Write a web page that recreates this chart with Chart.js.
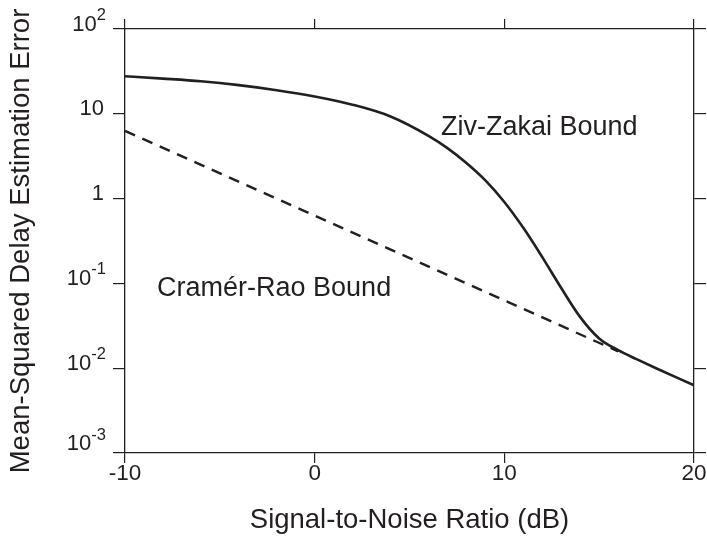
<!DOCTYPE html>
<html>
<head>
<meta charset="utf-8">
<script src="https://cdn.jsdelivr.net/npm/chart.js@4/dist/chart.umd.min.js"></script>
<style>
  html, body { margin: 0; padding: 0; background: #fff; }
  #wrap { width: 707px; height: 540px; }
</style>
</head>
<body>
<div id="wrap"><canvas id="c" width="707" height="540"></canvas></div>
<script>
// Signal-to-noise ratio samples (dB) and the Ziv-Zakai bound on delay MSE
const snrDb = [-10, -8, -6, -4, -2, 0, 2, 4, 6, 7, 8, 9, 10, 11, 12, 13, 14, 15, 16, 17, 18, 20];
const zivZakai = [27.7, 26.0, 24.2, 21.8, 19.0, 16.0, 12.8, 9.3, 5.5, 3.94, 2.63, 1.64, 0.912, 0.452, 0.204, 0.0881, 0.0400, 0.0224, 0.0163, 0.0127, 0.0100, 0.0063];

// Cramér-Rao bound (straight line on log axes), drawn dashed up to where the curves merge
const crbSnrDb = [-10, 0, 10, 16];
const cramerRao = [6.3, 0.63, 0.063, 0.0158];

// Axis ticks
const xTickValues = [-10, 0, 10, 20];
const yTickExponents = [-3, -2, -1, 0, 1, 2];

const INK = '#231f20';
const FONT = '"Liberation Sans", Arial, Helvetica, sans-serif';

const toPoints = (xs, ys) => xs.map((x, i) => ({ x: x, y: ys[i] }));

// Axis tick labels in 10^n form and the curve captions
const labelPlugin = {
  id: 'boundLabels',
  afterDraw(chart) {
    const ctx = chart.ctx;
    const ys = chart.scales.y;
    const xs = chart.scales.x;
    ctx.save();
    ctx.fillStyle = INK;
    ctx.textBaseline = 'middle';
    yTickExponents.forEach(e => {
      const lift = e === -3 ? 9 : 4.5;
      const py = ys.getPixelForValue(Math.pow(10, e)) - lift;
      if (e === 0 || e === 1) {
        ctx.font = '22px ' + FONT;
        ctx.textAlign = 'right';
        ctx.fillText(e === 0 ? '1' : '10', 104, py);
      } else {
        const expText = e < 0 ? '-' + Math.abs(e) : String(e);
        ctx.font = '16.5px ' + FONT;
        const ew = ctx.measureText(expText).width;
        const right = 106;
        ctx.textAlign = 'left';
        ctx.fillText(expText, right - ew, py - 9);
        ctx.font = '22px ' + FONT;
        ctx.textAlign = 'right';
        ctx.fillText('10', right - ew, py);
      }
    });
    ctx.font = '27px ' + FONT;
    ctx.textAlign = 'left';
    ctx.fillText('Ziv-Zakai Bound', xs.getPixelForValue(6.66), ys.getPixelForValue(6.87));
    ctx.fillText('Cramér-Rao Bound', xs.getPixelForValue(-8.31), ys.getPixelForValue(0.0863));
    ctx.restore();
  }
};

const tickGrid = {
  drawOnChartArea: false,
  drawTicks: true,
  tickLength: 10,
  color: INK,
  lineWidth: 1.2
};
const frameBorder = { display: true, color: INK, width: 1.3 };

new Chart(document.getElementById('c'), {
  type: 'line',
  data: {
    datasets: [
      {
        label: 'Ziv-Zakai Bound',
        data: toPoints(snrDb, zivZakai),
        borderColor: INK,
        borderWidth: 2.6,
        pointRadius: 0,
        cubicInterpolationMode: 'monotone',
        fill: false
      },
      {
        label: 'Cramér-Rao Bound',
        data: toPoints(crbSnrDb, cramerRao),
        borderColor: INK,
        borderWidth: 2.4,
        borderDash: [11, 8],
        pointRadius: 0,
        tension: 0,
        fill: false
      }
    ]
  },
  options: {
    responsive: false,
    animation: false,
    events: [],
    layout: { padding: 0 },
    plugins: { legend: { display: false }, tooltip: { enabled: false } },
    scales: {
      x: {
        type: 'linear',
        position: 'bottom',
        min: -10,
        max: 20,
        afterBuildTicks: s => { s.ticks = xTickValues.map(v => ({ value: v })); },
        afterFit: s => { s.height = 87; },
        grid: tickGrid,
        border: frameBorder,
        ticks: {
          color: INK,
          font: { family: FONT, size: 22.5 },
          padding: -3,
          maxRotation: 0,
          callback: v => String(v)
        },
        title: {
          display: true,
          text: 'Signal-to-Noise Ratio (dB)',
          color: INK,
          font: { family: FONT, size: 27.5 },
          padding: { top: 0, bottom: 3 }
        }
      },
      x2: {
        type: 'linear',
        position: 'top',
        min: -10,
        max: 20,
        afterBuildTicks: s => { s.ticks = xTickValues.map(v => ({ value: v })); },
        afterFit: s => { s.height = 29; },
        grid: tickGrid,
        border: frameBorder,
        ticks: { display: false }
      },
      y: {
        type: 'logarithmic',
        position: 'left',
        min: 1e-3,
        max: 1e2,
        afterBuildTicks: s => { s.ticks = yTickExponents.map(e => ({ value: Math.pow(10, e) })); },
        afterFit: s => { s.width = 125; },
        grid: Object.assign({}, tickGrid, { tickLength: 12 }),
        border: frameBorder,
        ticks: { display: false },
        title: {
          display: true,
          text: 'Mean-Squared Delay Estimation Error',
          color: INK,
          font: { family: FONT, size: 27.5 },
          padding: { top: 5, bottom: 0 }
        }
      },
      y2: {
        type: 'logarithmic',
        position: 'right',
        min: 1e-3,
        max: 1e2,
        afterBuildTicks: s => { s.ticks = yTickExponents.map(e => ({ value: Math.pow(10, e) })); },
        afterFit: s => { s.width = 13; },
        grid: Object.assign({}, tickGrid, { tickLength: 12 }),
        border: frameBorder,
        ticks: { display: false }
      }
    }
  },
  plugins: [labelPlugin]
});
</script>
</body>
</html>
